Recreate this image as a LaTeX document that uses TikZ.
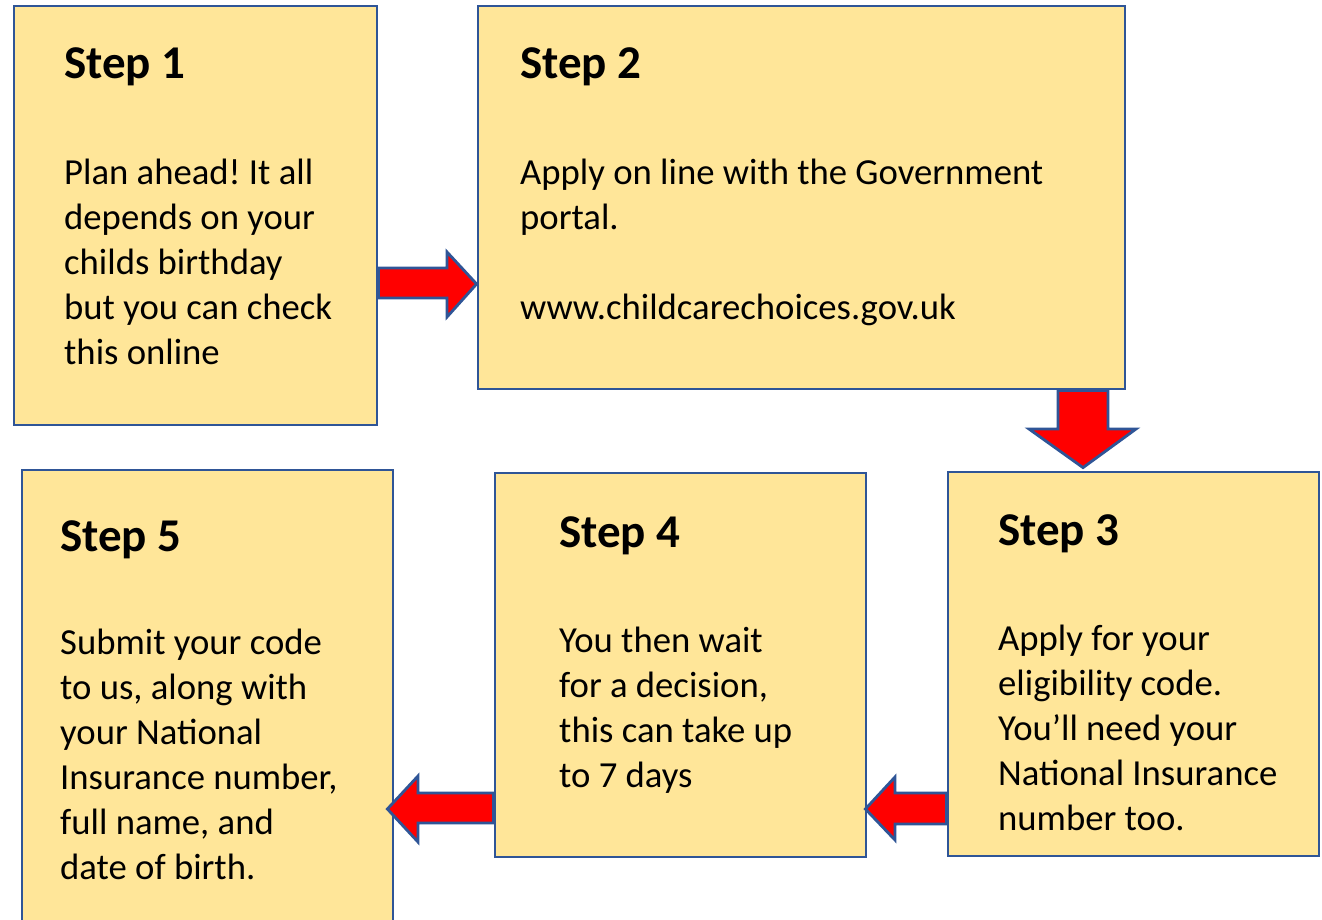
\documentclass[tikz,border=0pt]{standalone}
\usepackage{fontspec}
\setmainfont{Carlito}
\usetikzlibrary{calc}
\frenchspacing
\definecolor{boxfill}{HTML}{FFE699}
\definecolor{boxline}{HTML}{2F5597}
\definecolor{arrred}{HTML}{FF0000}
\tikzset{
  stepbox/.style={draw=boxline, fill=boxfill, line width=2.8pt, inner sep=0pt},
  steptitle/.style={anchor=base west, inner sep=0pt, font=\fontsize{47}{56}\selectfont\bfseries},
  stepbody/.style={anchor=base west, inner sep=0pt, align=left, font=\fontsize{36.7}{45}\selectfont\frenchspacing},
  blockarrow/.style={draw=boxline, fill=arrred, line width=2.8pt, line join=miter}
}
\begin{document}
\begin{tikzpicture}[x=1pt,y=-1pt]
\clip (0,0) rectangle (1322,920);
\fill[white] (0,0) rectangle (1322,920);
% boxes
\node[stepbox, minimum width=363pt, minimum height=419pt] (b1) at (195.5,215.5) {};
\node[stepbox, minimum width=647pt, minimum height=383pt] (b2) at (801.5,197.5) {};
\node[stepbox, minimum width=371pt, minimum height=384pt] (b3) at (1133.5,664) {};
\node[stepbox, minimum width=371pt, minimum height=384pt] (b4) at (680.5,665) {};
\node[stepbox, minimum width=371pt, minimum height=470pt] (b5) at (207.5,705) {};
% titles
\node[steptitle] (t1) at (64,79) {Step 1};
\node[steptitle] (t2) at (520,79) {Step 2};
\node[steptitle] (t3) at (998,545) {Step 3};
\node[steptitle] (t4) at (559,547) {Step 4};
\node[steptitle] (t5) at (60,551) {Step 5};
% bodies (base anchor = baseline of last line)
\node[stepbody] (x1) at (64,364) {Plan ahead! It all\\depends on your\\childs birthday\\but you can check\\this online};
\node[stepbody] (x2) at (520,319) {Apply on line with the Government\\portal.\\[45pt]www.childcarechoices.gov.uk};
\node[stepbody] (x3) at (998,830) {Apply for your\\eligibility code.\\You’ll need your\\National Insurance\\number too.};
\node[stepbody] (x4) at (559,787) {You then wait\\for a decision,\\this can take up\\to 7 days};
\node[stepbody] (x5) at (60,879) {Submit your code\\to us, along with\\your National\\Insurance number,\\full name, and\\date of birth.};
% arrows
\draw[blockarrow] (b1.east |- 0,268) -- (447,268) -- (447,252) -- (b2.west |- 0,284) -- (447,317) -- (447,298) -- (b1.east |- 0,298) -- cycle;
\draw[blockarrow] (1058,0 |- b2.south) -- (1108,0 |- b2.south) -- (1108,429) -- (1136,429) -- ($(1083,0 |- b3.north)+(0,-3)$) -- (1029,429) -- (1058,429) -- cycle;
\draw[blockarrow] (b3.west |- 0,793) -- (895,793) -- (895,777) -- ($(b4.east |- 0,809)+(-2,0)$) -- (895,840) -- (895,824) -- (b3.west |- 0,824) -- cycle;
\draw[blockarrow] (b4.west |- 0,793) -- (418,793) -- (418,776) -- ($(b5.east |- 0,809)+(-7,0)$) -- (418,842) -- (418,823) -- (b4.west |- 0,823) -- cycle;
\end{tikzpicture}
\end{document}
